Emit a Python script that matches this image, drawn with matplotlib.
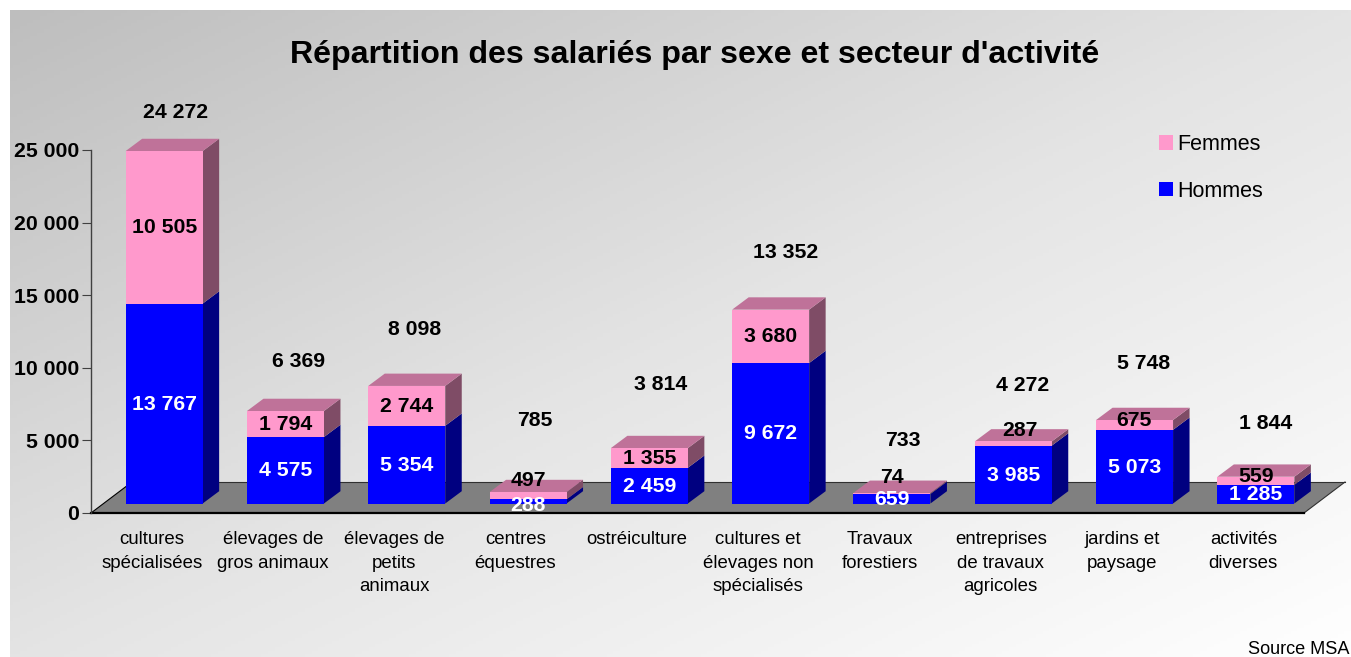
import numpy as np
import matplotlib
matplotlib.use("Agg")
import matplotlib.pyplot as plt
from matplotlib.patches import Polygon

plt.rcParams['font.family'] = ['Liberation Sans', 'DejaVu Sans']

categories = ["cultures\nspécialisées", "élevages de\ngros animaux", "élevages de\npetits\nanimaux",
              "centres\néquestres", "ostréiculture", "cultures et\nélevages non\nspécialisés",
              "Travaux\nforestiers", "entreprises\nde travaux\nagricoles", "jardins et\npaysage",
              "activités\ndiverses"]
hommes = [13767, 4575, 5354, 288, 2459, 9672, 659, 3985, 5073, 1285]
femmes = [10505, 1794, 2744, 497, 1355, 3680, 74, 287, 675, 559]
totaux = [24272, 6369, 8098, 785, 3814, 13352, 733, 4272, 5748, 1844]
y_ticks = [0, 5000, 10000, 15000, 20000, 25000]

# label placement, in pixels relative to the marks
total_dx = [11.5, 13.5, 8, 6.5, 11, 15, 11, 9, 9, 9.5]
total_dy = [39, 50, 56, 72, 64, 57, 52, 56, 57, 53]
h_dy = [0, 0, 0, -4, 0, 0, 0, 0, 0, 0]
f_dy = [0, 0, 0, 16, 0, 0, 16, 14, 5, 5]
f_dx = [0, 0, 0, 0, 0, 0, 0, 7, -1, 0]

W, H = 1351, 657
AX_L, AX_R, AX_T, AX_B = 91, 1304, 150, 513
fig = plt.figure(figsize=(W / 100, H / 100), dpi=100, facecolor='white')

# background gradient
bg = fig.add_axes([10 / W, 0, (W - 10) / W, (H - 10) / H], zorder=0)
gx, gy = np.meshgrid(np.linspace(0, 1, 400), np.linspace(0, 1, 200))
cm = matplotlib.colors.LinearSegmentedColormap.from_list(
    'g', [(0, '#BEBEBE'), (0.5, '#E4E4E4'), (1, '#FFFFFF')])
bg.imshow((gx + gy) / 2, cmap=cm, vmin=0, vmax=1, aspect='auto', origin='upper', extent=(0, 1, 1, 0))
bg.axis('off')

ax = fig.add_axes([AX_L / W, 1 - AX_B / H, (AX_R - AX_L) / W, (AX_B - AX_T) / H], zorder=1)
ax.patch.set_alpha(0)
n = len(categories)
ax.set_xlim(-0.5, n - 0.5)
ax.set_ylim(0, 25000)
ux = (AX_R - AX_L) / n            # px per category
uy = (AX_B - AX_T) / 25000        # px per unit

def X(px): return px / ux
def Y(px): return px / uy

# floor
fl = [(-0.5, 0), (n - 0.5, 0), (n - 0.5 + X(41), Y(31)), (-0.5 + X(41), Y(31))]
ax.add_patch(Polygon(fl, closed=True, fc='#808080', ec='none', clip_on=False, zorder=1))
ax.plot([fl[0][0], fl[3][0]], [fl[0][1], fl[3][1]], color='black', lw=0.8, clip_on=False, zorder=2)
ax.plot([fl[3][0], fl[2][0]], [fl[3][1], fl[2][1]], color='#303030', lw=0.8, clip_on=False, zorder=2)
ax.plot([fl[1][0], fl[2][0]], [fl[1][1], fl[2][1]], color='#303030', lw=0.8, clip_on=False, zorder=2)
ax.plot([fl[0][0], fl[1][0]], [0, 0], color='black', lw=1.6, clip_on=False, zorder=2)

# bars with depth
xpos = np.arange(n)
shift, base, bw = X(12.5), Y(9.5), 77 / ux
ddx, ddy = X(16.5), Y(12.3)
hom = np.array(hommes, float)
fem = np.array(femmes, float)
b1 = ax.bar(xpos + shift, hom, bw, bottom=base, color='#0000FF', label='Hommes', zorder=5, clip_on=False)
b2 = ax.bar(xpos + shift, fem, bw, bottom=base + hom, color='#FF99CC', label='Femmes', zorder=5, clip_on=False)

for i in range(n):
    l, r = xpos[i] + shift - bw / 2, xpos[i] + shift + bw / 2
    y0, y1, y2 = base, base + hom[i], base + hom[i] + fem[i]
    ax.add_patch(Polygon([(r, y0), (r + ddx, y0 + ddy), (r + ddx, y1 + ddy), (r, y1)],
                         fc='#000080', ec='none', zorder=4, clip_on=False))
    ax.add_patch(Polygon([(r, y1), (r + ddx, y1 + ddy), (r + ddx, y2 + ddy), (r, y2)],
                         fc='#7F4C66', ec='none', zorder=4, clip_on=False))
    ax.add_patch(Polygon([(l, y2), (r, y2), (r + ddx, y2 + ddy), (l + ddx, y2 + ddy)],
                         fc='#BF7299', ec='none', zorder=4, clip_on=False))

# value labels
lab = dict(fontsize=15.3, fontweight='bold', ha='center', va='center',
           textcoords='offset pixels', zorder=8, annotation_clip=False)
def fmt(v): return f"{v:,}".replace(",", " ")
for i in range(n):
    cx = xpos[i] + shift
    ax.annotate(fmt(hommes[i]), (cx, base + hom[i] / 2), xytext=(0, h_dy[i] - 0.5), color='white', **lab)
    ax.annotate(fmt(femmes[i]), (cx, base + hom[i] + fem[i] / 2), xytext=(f_dx[i], f_dy[i] - 0.5), color='black', **lab)
    ax.annotate(fmt(totaux[i]), (cx, base + hom[i] + fem[i]), xytext=(total_dx[i], total_dy[i]), color='black', **lab)

# axes
for s in ('top', 'right', 'bottom'):
    ax.spines[s].set_visible(False)
ax.spines['left'].set_color('#404040')
ax.spines['left'].set_linewidth(1.0)
ax.set_yticks(y_ticks)
ax.set_yticklabels([fmt(v) for v in y_ticks], fontsize=15.3, fontweight='bold')
ax.tick_params(axis='y', length=6.5, width=0.8, color='#404040', pad=2)
ax.set_xticks(xpos)
ax.set_xticklabels(categories, fontsize=13.4, linespacing=1.5)
ax.tick_params(axis='x', length=0, pad=13)

# legend
leg = fig.legend(handles=[b2, b1], labels=['Femmes', 'Hommes'], loc='upper left',
                 bbox_to_anchor=(1159 / W, 1 - 134 / H), frameon=False, fontsize=15.5,
                 handlelength=0.65, handleheight=0.65, handletextpad=0.2,
                 labelspacing=1.2, borderpad=0, borderaxespad=0)

fig.text(694.5 / W, 1 - 55 / H, "Répartition des salariés par sexe et secteur d'activité",
         fontsize=23.1, fontweight='bold', ha='center', va='center', zorder=3)
fig.text(1349 / W, 1 - 650 / H, "Source MSA", fontsize=13.1, ha='right', va='center', zorder=3)

fig.savefig('out.png', dpi=100)
